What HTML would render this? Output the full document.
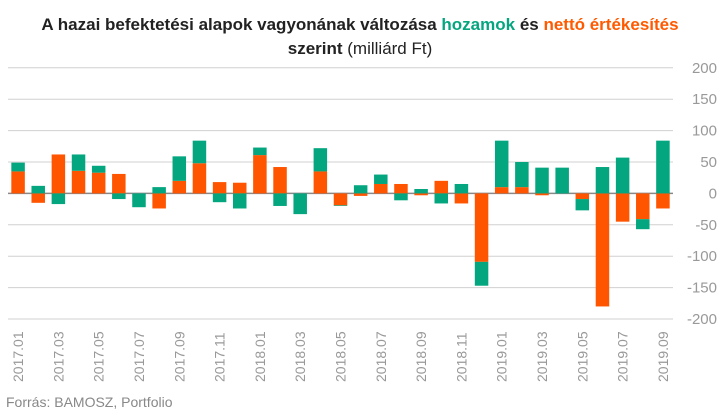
<!DOCTYPE html>
<html><head><meta charset="utf-8"><style>
body{margin:0;background:#fff;width:720px;height:418px;overflow:hidden;font-family:"Liberation Sans",sans-serif}
.title{position:absolute;left:0;top:13px;width:720px;text-align:center;font-size:17px;line-height:24px;font-weight:bold;color:#222}
.g{color:#05a67f}.o{color:#ff5a00}.n{font-weight:normal}
.src{position:absolute;left:6px;top:394px;font-size:14px;color:#888}
</style></head><body>
<div class="title">A hazai befektetési alapok vagyonának változása <span class="g">hozamok</span> és <span class="o">nettó értékesítés</span><br>szerint <span class="n">(milliárd Ft)</span></div>
<svg id="c" width="720" height="418" style="position:absolute;left:0;top:0"></svg>
<div class="src">Forrás: BAMOSZ, Portfolio</div>
<script>
const months=["2017.01","2017.02","2017.03","2017.04","2017.05","2017.06","2017.07","2017.08","2017.09","2017.10","2017.11","2017.12","2018.01","2018.02","2018.03","2018.04","2018.05","2018.06","2018.07","2018.08","2018.09","2018.10","2018.11","2018.12","2019.01","2019.02","2019.03","2019.04","2019.05","2019.06","2019.07","2019.08","2019.09"];
const netSales=[35,-15,62,36,33,31,0,-24,20,48,18,17,61,42,0,35,-19,-4,15,15,-3,20,-16,-109,10,10,-3,0,-9,-180,-45,-41,-24];
const returns=[14,12,-17,26,11,-9,-22,10,39,36,-14,-24,12,-20,-33,37,-1,13,15,-11,7,-16,15,-38,74,40,41,41,-18,42,57,-16,84];
const yTicks=[200,150,100,50,0,-50,-100,-150,-200];
const svg=document.getElementById('c'),NS="http://www.w3.org/2000/svg";
const x0=8,x1=673,step=(x1-x0)/months.length,bw=13.5;
const y=v=>193.4-v*(125.6/200);
const xc=i=>x0+step*(i+0.5);
function mk(t,a){const e=document.createElementNS(NS,t);for(const k in a)e.setAttribute(k,a[k]);svg.appendChild(e);return e;}
yTicks.forEach(v=>{
 const l=mk('line',{x1:x0,x2:x1,y1:y(v),y2:y(v),stroke:v===0?'#888':'#d0d0d0','stroke-width':v===0?1.5:1});
 
 
 const t=mk('text',{x:717,y:y(v)+5,'text-anchor':'end','font-size':15,fill:'#999'});
 t.textContent=v;
 
 
});
months.forEach((m,i)=>{
 let pos=0,neg=0;
 [[netSales[i],'#ff5500','net-sales-bar'],[returns[i],'#03a67e','returns-bar']].forEach(([v,c,n])=>{
  if(!v)return;
  let a,b;
  if(v>0){a=pos;b=pos+v;pos=b;}else{a=neg;b=neg+v;neg=b;}
  const r=mk('rect',{x:xc(i)-bw/2,width:bw,y:y(Math.max(a,b)),height:Math.abs(y(a)-y(b)),fill:c});
  
  
 });
 if(i%2===0){
  const t=mk('text',{transform:`translate(${xc(i)+5},382) rotate(-90)`,'font-size':14,fill:'#999'});
  t.textContent=m;
  
  
 }
});
</script>
</body></html>
